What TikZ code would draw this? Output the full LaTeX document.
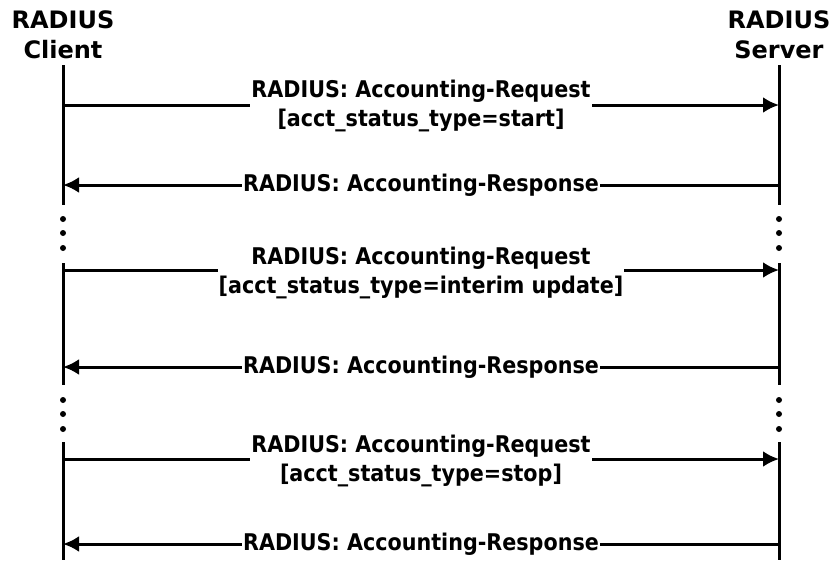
\documentclass[tikz,border=0pt]{standalone}
\usepackage{fontspec}
\setmainfont{DejaVu Sans}
\newfontfamily\condfont{DejaVu Sans Condensed}
\usetikzlibrary{arrows.meta}
\tikzstyle{party}=[align=center,font=\fontsize{24}{30}\selectfont\bfseries,inner sep=0pt]
\tikzstyle{msg}=[fill=white,align=center,font=\condfont\fontsize{23}{29}\selectfont\bfseries,inner sep=1pt]
\tikzstyle{life}=[-,line width=3pt]

\begin{document}
\begin{tikzpicture}[->,>={Latex[length=16pt,width=16pt]},x=1pt,y=-1pt,line width=3pt]
	\useasboundingbox (0,0) rectangle (830,560);
	\node[party] (client) at (63,35) {RADIUS\\Client};
	\node[party] (server) at (779,35) {RADIUS\\Server};

	% lifelines, broken by dots
	\foreach \x/\p in {63/c,779/s} {
		\foreach \a/\b/\k in {65/205/a,263/385/b,442/560/c}
			\draw[life] (\x,\a) coordinate (\p\k top) -- (\x,\b) coordinate (\p\k bot);
		\foreach \y in {219,233,248,400,414,429}
			\fill (\x,\y) circle (3);
	}

	\foreach \n/\y in {1/105,2/185,3/270,4/367,5/459,6/544} {
		\coordinate (c\n) at (63,\y);
		\coordinate (s\n) at (779,\y);
	}
	\path
		(c1) edge node[msg,yshift=-1]{RADIUS: Accounting-Request\\{[}acct\_status\_type=start]} (s1)
		(s2) edge node[msg]{RADIUS: Accounting-Response} (c2)
		(c3) edge node[msg,yshift=-3]{RADIUS: Accounting-Request\\{[}acct\_status\_type=interim update]} (s3)
		(s4) edge node[msg]{RADIUS: Accounting-Response} (c4)
		(c5) edge node[msg,yshift=-2]{RADIUS: Accounting-Request\\{[}acct\_status\_type=stop]} (s5)
		(s6) edge node[msg]{RADIUS: Accounting-Response} (c6);
\end{tikzpicture}
\end{document}
